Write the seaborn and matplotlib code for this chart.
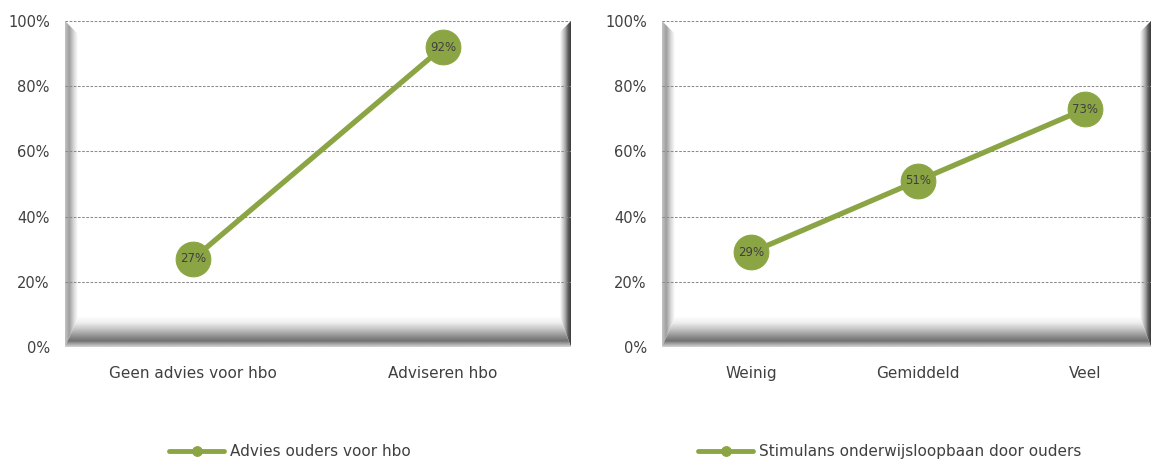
import numpy as np
import pandas as pd
import matplotlib
matplotlib.use("Agg")
import matplotlib.pyplot as plt
import seaborn as sns
from matplotlib.colors import LinearSegmentedColormap
from matplotlib.patches import Polygon
from matplotlib.ticker import PercentFormatter

# Data
left_categories = ["Geen advies voor hbo", "Adviseren hbo"]
left_values = [0.27, 0.92]
left_series = "Advies ouders voor hbo"

right_categories = ["Weinig", "Gemiddeld", "Veel"]
right_values = [0.29, 0.51, 0.73]
right_series = "Stimulans onderwijsloopbaan door ouders"

green = "#8ca544"
text_color = "#404040"

sns.set_style("white")
plt.rcParams["font.family"] = ["DejaVu Sans"]

W, H = 1156, 461
fig = plt.figure(figsize=(W / 100, H / 100), dpi=100)


def gradient_patch(ax, verts, colors, direction, extent):
    # draw a gradient clipped to a polygon (axes coords)
    cmap = LinearSegmentedColormap.from_list("g", colors)
    grad = np.linspace(0, 1, 256)
    if direction == "h":
        arr = grad[np.newaxis, :]
    else:
        arr = grad[:, np.newaxis]
    im = ax.imshow(arr, cmap=cmap, extent=extent, transform=ax.transAxes,
                   aspect="auto", origin="lower", zorder=0.2, interpolation="bilinear")
    poly = Polygon(verts, closed=True, transform=ax.transAxes, facecolor="none", edgecolor="none")
    ax.add_patch(poly)
    im.set_clip_path(poly)


def bevel(ax, wpx, hpx, lpx=13, rpx=11, bpx=30):
    lw, rw = lpx / wpx, rpx / wpx
    bh = bpx / hpx
    lt, rt = lpx / hpx, rpx / hpx
    # left strip
    gradient_patch(ax, [(0, 0), (lw, bh), (lw, 1 - lt), (0, 1)],
                   ["#c4c4c4", "#9e9e9e", "#d6d6d6", "#ffffff"], "h", (0, lw, 0, 1))
    # right strip
    gradient_patch(ax, [(1, 0), (1, 1), (1 - rw, 1 - rt), (1 - rw, bh)],
                   ["#ffffff", "#d4d4d4", "#a4a4a4", "#5e5e5e", "#3a3a3a"], "h", (1 - rw, 1, 0, 1))
    # bottom strip
    gradient_patch(ax, [(0, 0), (1, 0), (1 - rw, bh), (lw, bh)],
                   ["#d8d8d8", "#707070", "#9c9c9c", "#cacaca", "#f0f0f0", "#ffffff"], "v", (0, 1, 0, bh))


def draw(ax, cats, vals, series, wpx, hpx, xlim, leg_x):
    df = pd.DataFrame({"x": np.arange(len(cats)), "y": vals})
    bevel(ax, wpx, hpx)
    sns.lineplot(data=df, x="x", y="y", ax=ax, color=green, linewidth=3.8,
                 marker="o", markersize=25, markeredgecolor=green, label=series, zorder=3)
    for x, y in zip(df["x"], df["y"]):
        ax.text(x, y, f"{y:.0%}", ha="center", va="center", fontsize=8.5,
                color=text_color, zorder=4)
    ax.set_xlim(*xlim)
    ax.set_ylim(0, 1)
    ax.set_xticks(df["x"])
    ax.set_xticklabels(cats)
    ax.set_yticks(np.linspace(0, 1, 6))
    ax.yaxis.set_major_formatter(PercentFormatter(1.0, decimals=0))
    ax.tick_params(axis="x", length=0, pad=14, labelsize=11, labelcolor=text_color)
    ax.tick_params(axis="y", length=0, pad=11, labelsize=10.5, labelcolor=text_color)
    ax.set_xlabel("")
    ax.set_ylabel("")
    ax.grid(axis="y", color="#8a8a8a", linestyle=(0, (2.5, 1.5)), linewidth=0.75)
    ax.grid(axis="x", visible=False)
    ax.set_axisbelow(True)
    for s in ax.spines.values():
        s.set_visible(False)
    leg = ax.legend(loc="center", bbox_to_anchor=(leg_x, -0.322), frameon=False,
                    fontsize=11, handlelength=3.6, handletextpad=0.4, labelcolor=text_color)
    for ln in leg.get_lines():
        ln.set_markersize(7)
        ln.set_linewidth(3.5)


ax1 = fig.add_axes([65 / W, 1 - 347 / H, 506 / W, 326 / H])
draw(ax1, left_categories, left_values, left_series, 506, 326, (-0.512, 1.512), 0.445)

ax2 = fig.add_axes([662 / W, 1 - 347 / H, 489 / W, 326 / H])
draw(ax2, right_categories, right_values, right_series, 489, 326, (-0.533, 2.395), 0.466)

fig.savefig("out.png", dpi=100)
